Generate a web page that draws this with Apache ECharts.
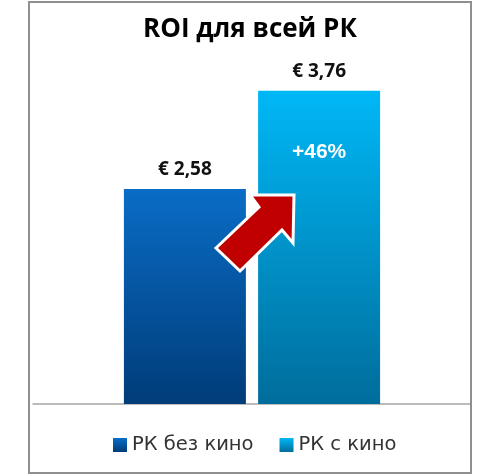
<!DOCTYPE html>
<html><head><meta charset="utf-8">
<script src="https://cdn.jsdelivr.net/npm/echarts@6/dist/echarts.min.js"></script>
<style>html,body{margin:0;padding:0;background:#fff}#c{width:500px;height:476px}</style>
</head><body><div id="c"></div>
<script>
const titleText = 'ROI для всей РК';
const categories = ['ROI'];
const seriesNames = ['РК без кино', 'РК с кино'];
const valuesWithout = [2.58];
const valuesWith = [3.76];

const fmt = v => '€ ' + v.toFixed(2).replace('.', ',');
const growth = Math.round((valuesWith[0] / valuesWithout[0] - 1) * 100);

const grad = (top, bottom) => new echarts.graphic.LinearGradient(0, 0, 0, 1, [
  {offset: 0, color: top}, {offset: 1, color: bottom}
]);

const chart = echarts.init(document.getElementById('c'), null, {renderer: 'canvas'});
const labelStyle = {show: true, position: 'top', distance: 10, fontFamily: 'Open Sans', fontWeight: 'bold', fontSize: 19, color: '#111', formatter: p => fmt(p.value)};

chart.setOption({
  animation: false,
  backgroundColor: '#fff',
  title: {text: titleText, left: 'center', top: 12, textStyle: {fontFamily: 'Open Sans', fontWeight: 'bold', fontSize: 26, color: '#000'}},
  legend: {
    bottom: 16, left: 108, itemWidth: 14, itemHeight: 14, itemGap: 26,
    icon: 'rect',
    textStyle: {fontFamily: 'DejaVu Sans', fontSize: 19.5, color: '#333'},
    data: seriesNames
  },
  grid: {left: 33, right: 29, top: 29, bottom: 72},
  xAxis: {type: 'category', data: categories, axisLabel: {show: false}, axisTick: {show: false},
    axisLine: {lineStyle: {color: '#a6a6a6', width: 1.5}}},
  yAxis: {type: 'value', min: 0, max: 4.5, show: false, splitLine: {show: false}},
  series: [
    {name: seriesNames[0], type: 'bar', data: valuesWithout, barWidth: 122, barGap: '10%',
      itemStyle: {color: grad('#0a6cc6', '#003c78')}, label: labelStyle},
    {name: seriesNames[1], type: 'bar', data: valuesWith, barWidth: 122,
      itemStyle: {color: grad('#00b8f6', '#006d9c')}, label: labelStyle}
  ]
});

// Annotations placed relative to the bars laid out by the chart
const model = chart.getModel();
const l1 = model.getSeriesByIndex(0).getData().getItemLayout(0);
const l2 = model.getSeriesByIndex(1).getData().getItemLayout(0);
const top1 = Math.min(l1.y, l1.y + l1.height);
const top2 = Math.min(l2.y, l2.y + l2.height);
const ox = (l1.x + l1.width + l2.x) / 2, oy = top1;
const arrow = [[-36, 59], [7, 18], [-2, 6], [42, 6], [41, 54], [30, 41], [-12, 82]].map(([x, y]) => [ox + x, oy + y]);

chart.setOption({
  graphic: [
    {type: 'rect', shape: {x: 29, y: 2, width: 442, height: 471}, style: {fill: 'none', stroke: '#8f8f8f', lineWidth: 2}, z: 100},
    {type: 'polygon', shape: {points: arrow}, style: {fill: '#c00000', stroke: '#ffffff', lineWidth: 3, lineJoin: 'miter'}, z: 50},
    {type: 'text', x: l2.x + l2.width / 2, y: top2 + 62, style: {text: '+' + growth + '%', fill: '#ffffff', fontFamily: 'Liberation Sans', fontWeight: 'bold', fontSize: 21, align: 'center', verticalAlign: 'middle'}, z: 50}
  ]
});
</script></body></html>
